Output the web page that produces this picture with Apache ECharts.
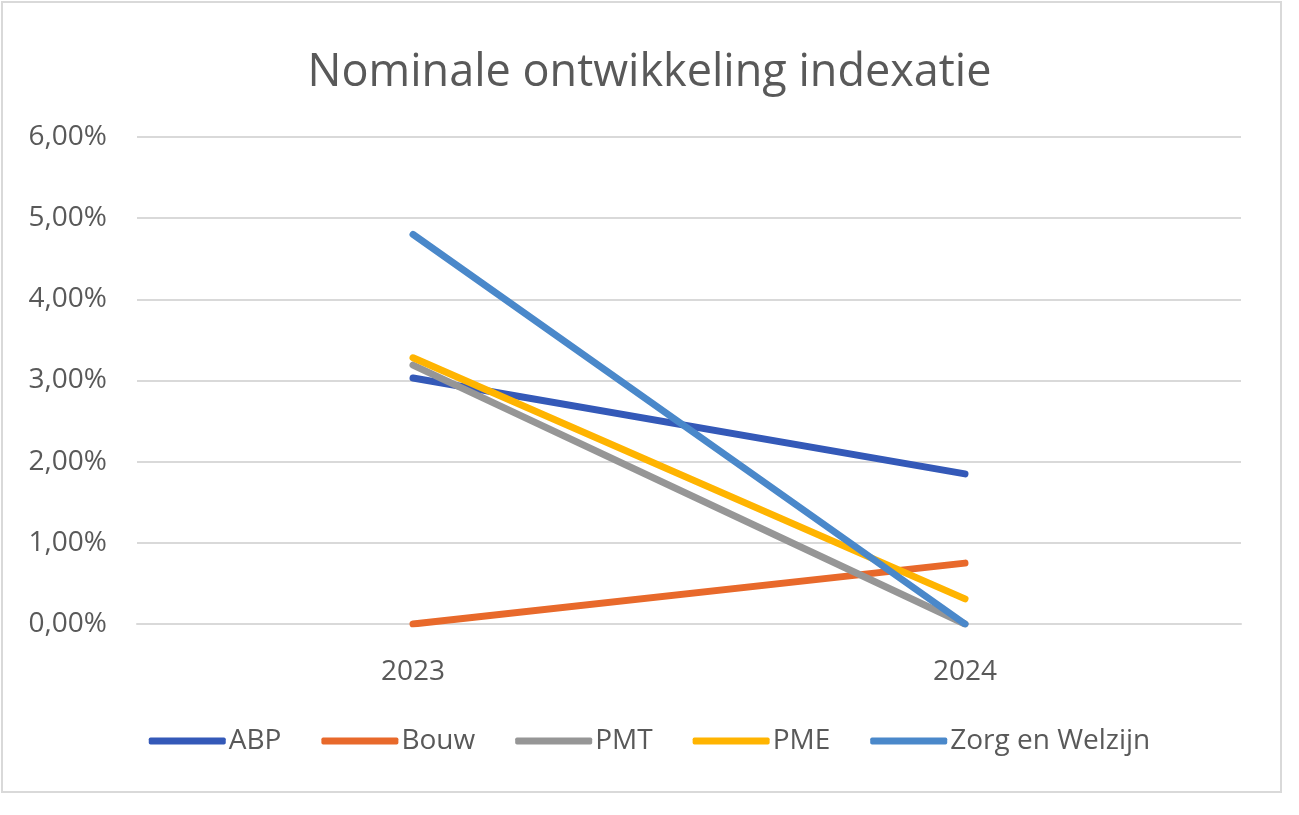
<!DOCTYPE html>
<html>
<head>
<meta charset="utf-8">
<script src="https://cdn.jsdelivr.net/npm/echarts@6/dist/echarts.min.js"></script>
<style>
html,body{margin:0;padding:0;background:#fff;}
#chart{width:1299px;height:815px;}
</style>
</head>
<body>
<div id="chart"></div>
<script>
const categories = ['2023', '2024'];
const seriesNames = ['ABP', 'Bouw', 'PMT', 'PME', 'Zorg en Welzijn'];
const abp = [3.03, 1.85];
const bouw = [0.00, 0.75];
const pmt = [3.19, 0.00];
const pme = [3.28, 0.31];
const zorg = [4.80, 0.00];
const yTicks = [0, 1, 2, 3, 4, 5, 6];

const colors = ['#3459B8', '#E8692B', '#969696', '#FFB400', '#4A88CA'];
const dataList = [abp, bouw, pmt, pme, zorg];
const FONT = '"Open Sans", sans-serif';
const TXT = '#595959';

const chart = echarts.init(document.getElementById('chart'));
chart.setOption({
  animation: false,
  backgroundColor: '#fff',
  color: colors,
  title: {
    text: 'Nominale ontwikkeling indexatie',
    left: 'center',
    top: 46,
    textStyle: { fontFamily: FONT, fontSize: 45, fontWeight: 'normal', color: TXT }
  },
  graphic: [{
    type: 'rect',
    shape: { x: 2, y: 2, width: 1279, height: 790 },
    style: { fill: 'none', stroke: '#d9d9d9', lineWidth: 2 },
    silent: true
  }],
  legend: {
    data: seriesNames,
    left: 'center',
    top: 722,
    icon: 'roundRect',
    itemWidth: 77,
    itemHeight: 7,
    itemGap: 40,
    textStyle: { fontFamily: FONT, fontSize: 28, color: TXT, padding: [0, 0, 0, -2] }
  },
  grid: { left: 137, right: 58, top: 137, bottom: 191, containLabel: false },
  xAxis: {
    type: 'category',
    data: categories,
    boundaryGap: true,
    axisLine: { show: true, lineStyle: { color: '#d9d9d9', width: 2 } },
    axisTick: { show: false },
    axisLabel: { fontFamily: FONT, fontSize: 28, color: TXT, margin: 34 }
  },
  yAxis: {
    type: 'value',
    min: yTicks[0],
    max: yTicks[yTicks.length - 1],
    interval: 1,
    axisLine: { show: false },
    axisTick: { show: false },
    splitLine: { lineStyle: { color: '#d9d9d9', width: 2 } },
    axisLabel: {
      fontFamily: FONT, fontSize: 28, color: TXT, margin: 30,
      formatter: v => v.toFixed(2).replace('.', ',') + '%'
    }
  },
  series: seriesNames.map((name, i) => ({
    name: name,
    type: 'line',
    data: dataList[i],
    symbol: 'none',
    lineStyle: { width: 7, color: colors[i], cap: 'round' },
    itemStyle: { color: colors[i] }
  }))
});
</script>
</body>
</html>
